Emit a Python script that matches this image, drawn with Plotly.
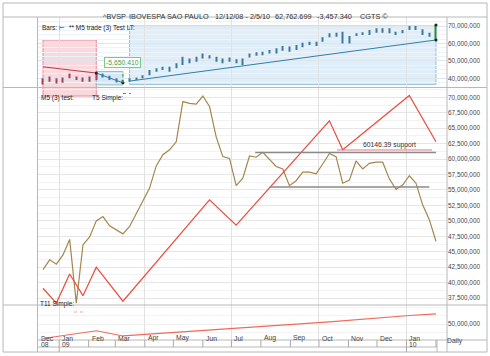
import pandas as pd
import plotly.graph_objects as go
from plotly.subplots import make_subplots

W, H = 490, 356
M = 1e6

# ---------------- data ----------------
weeks = pd.date_range("2008-12-15", periods=60, freq="7D")

bar_low = [36.5, 38, 37, 37.4, 40, 39, 38, 38, 39, 40.5, 39, 37.6, 37, 38, 39, 40,
           41.8, 43.7, 44.7, 43.7, 45.7, 47.6, 48.6, 49.5, 51.4, 51.4, 49.5, 48.6, 49.5, 48.6,
           47.6, 52, 52.9, 53.3, 54.3, 54.3, 55.8, 55.2, 56.2, 57.8, 59.1, 58.5, 61, 63.5,
           63.8, 60, 60, 64.8, 64.8, 64.8, 66.2, 66.2, 65.8, 64.8, 65.8, 67.7, 67.7, 64.8,
           63.9, 62]
bar_high = [40, 41, 40, 40.5, 42.8, 41, 40.5, 41, 43, 42.8, 41.4, 40, 39, 40, 40.5, 41.8,
            44.7, 45.7, 46.6, 46.6, 48.6, 52.4, 51.4, 52.4, 54.3, 53.3, 52.4, 51.4, 52, 50.9,
            51.4, 54.3, 54.9, 55.2, 56.2, 57.2, 58.5, 58.2, 59.1, 60.4, 61, 61, 63.5, 65.8,
            66.2, 66.7, 64.3, 65.8, 66.4, 67.7, 68.7, 68.7, 68.7, 66.7, 67.7, 70, 70, 68.1,
            66.2, 70.6]

m5_test = [42.1, 43.7, 43.0, 44.5, 47.0, 36.7, 46.1, 47.4, 50.0, 50.7, 49.2, 48.6, 47.9,
           49.1, 51.2, 53.4, 55.3, 58.9, 60.7, 61.5, 62.8, 69.3, 69.0, 68.9, 70.2, 68.5,
           63.6, 60.4, 60.1, 55.7, 56.9, 60.5, 60.3, 61.1, 59.9, 58.8, 58.4, 55.7, 56.5,
           57.9, 57.9, 57.6, 59.2, 60.9, 60.4, 56.1, 56.6, 59.7, 58.4, 59.3, 59.5, 59.5,
           56.8, 55.1, 55.8, 57.3, 56.1, 52.6, 50.2, 46.7]

t5_idx = [0, 2, 4, 6, 8, 12, 25, 29, 43, 45, 55, 59]
t5_vals = [39.1, 36.7, 41.4, 37.9, 42.5, 37.0, 53.4, 49.3, 66.2, 61.5, 70.3, 62.8]

t11_idx = [0, 8, 12, 28, 30, 43, 55, 59]
t11_vals = [33.0, 42.0, 36.0, 44.5, 45.0, 52.5, 60.0, 62.0]

# trend lines in the bar panel (start idx, start value, end idx, end value)
trend_red = (0, 46.6, 8, 43.0)
trend_blue1 = (8, 43.0, 12, 37.4)
trend_blue2 = (13, 38.4, 59, 62.0)

# support / resistance lines in main panel (start date, end date, level)
upper_line = ("2009-07-26", "2010-02-01", 61.07)
lower_line = ("2009-08-10", "2010-01-25", 55.5)
support_line = ("2009-10-20", "2010-01-28", 61.47)
support_label = "60146.39 support"

top_ticks = [40, 50, 60, 70]
main_ticks = [37.5, 40, 42.5, 45, 47.5, 50, 52.5, 55, 57.5, 60, 62.5, 65, 67.5, 70]
bottom_ticks = [50]

month_labels = ["Dec", "Jan", "Feb", "Mar", "Apr", "May", "Jun", "Jul", "Aug", "Sep",
                "Oct", "Nov", "Dec", "Jan"]
month_starts = ["2009-01-01", "2009-02-01", "2009-03-01", "2009-04-01", "2009-05-01",
                "2009-06-01", "2009-07-01", "2009-08-01", "2009-09-01", "2009-10-01",
                "2009-11-01", "2009-12-01", "2010-01-01", "2010-02-01"]
year_labels = [("08", None), ("09", "2009-01-01"), ("10", "2010-01-01")]
quarter_grid = ["2009-01-01", "2009-04-01", "2009-07-01", "2009-10-01", "2010-01-01"]

x_range = ["2008-12-09 05:00", "2010-02-12 14:00"]

FONT = "Liberation Sans, Arial, DejaVu Sans, sans-serif"
BROWN = "#a5864c"
RED = "#ec4c3c"
GREEN = "#3aa04a"


def px(x):
    return x / W


def py(y):
    return 1 - y / H


fig = make_subplots(rows=3, cols=1, shared_xaxes=True, vertical_spacing=0)

# ---------------- top panel: bars ----------------
bar_colors = []
for i in range(len(weeks)):
    if i == len(weeks) - 1:
        bar_colors.append("#2e8b3a")
    elif i <= 8:
        bar_colors.append("#a84058")
    else:
        bar_colors.append("#3a7a9c")

fig.add_trace(go.Bar(x=weeks, base=[v * M for v in bar_low],
                     y=[(h - l) * M for h, l in zip(bar_high, bar_low)],
                     width=1.1 * 86400000, marker=dict(color=bar_colors, line=dict(width=0)),
                     showlegend=False, hoverinfo="skip"), row=1, col=1)

for (i0, v0, i1, v1), col in [(trend_red, "#b03a55"), (trend_blue1, "#2f7fa8"),
                              (trend_blue2, "#2f7fa8")]:
    fig.add_trace(go.Scatter(x=[weeks[i0], weeks[i1]], y=[v0 * M, v1 * M], mode="lines",
                             line=dict(color=col, width=1), showlegend=False,
                             hoverinfo="skip"), row=1, col=1)

fig.add_trace(go.Scatter(x=[weeks[8], weeks[12], weeks[59], weeks[59]],
                         y=[trend_red[3] * M, trend_blue1[3] * M, bar_high[59] * M,
                            trend_blue2[3] * M],
                         mode="markers", marker=dict(color="#222", size=3),
                         showlegend=False, hoverinfo="skip"), row=1, col=1)

# ---------------- main panel ----------------
fig.add_trace(go.Scatter(x=weeks, y=[v * M for v in m5_test], mode="lines",
                         line=dict(color=BROWN, width=1.2), showlegend=False,
                         hoverinfo="skip"), row=2, col=1)
fig.add_trace(go.Scatter(x=[weeks[i] for i in t5_idx], y=[v * M for v in t5_vals],
                         mode="lines", line=dict(color=RED, width=1.2), showlegend=False,
                         hoverinfo="skip"), row=2, col=1)

# ---------------- bottom panel ----------------
fig.add_trace(go.Scatter(x=[weeks[i] for i in t11_idx], y=[v * M for v in t11_vals],
                         mode="lines", line=dict(color="#f06a5a", width=1.1),
                         showlegend=False, hoverinfo="skip"), row=3, col=1)

# ---------------- axes ----------------
xdom = [px(37.5), px(447)]
for k in ["xaxis", "xaxis2", "xaxis3"]:
    fig.layout[k].update(domain=xdom, range=x_range, type="date", showticklabels=False,
                         ticks="", showgrid=True, gridcolor="#e2e2e2", gridwidth=1,
                         tickvals=quarter_grid, zeroline=False, showline=False,
                         fixedrange=True)

tickfont = dict(family=FONT, size=6.4, color="#444")
common_y = dict(side="right", tickformat=",d", ticks="", tickfont=tickfont,
                zeroline=False, fixedrange=True)
fig.layout.yaxis.update(domain=[py(87), py(17)], range=[35.0 * M, 75.2 * M],
                        tickvals=[v * M for v in top_ticks], gridcolor="#dbe6ee",
                        minor=dict(dtick=2.5 * M, showgrid=True, gridcolor="#eef3f7"),
                        **common_y)
fig.layout.yaxis2.update(domain=[py(305), py(88)], range=[36.39 * M, 71.5 * M],
                         tickvals=[v * M for v in main_ticks], gridcolor="#e6e6e6",
                         minor=dict(dtick=1.25 * M, showgrid=True, gridcolor="#f2f2f2"),
                         **common_y)
fig.layout.yaxis3.update(domain=[py(340), py(305)], range=[31.2 * M, 72.4 * M],
                         tickvals=[v * M for v in bottom_ticks], gridcolor="#eeeeee",
                         minor=dict(dtick=10 * M, showgrid=True, gridcolor="#f4f4f4"),
                         **common_y)

shapes = []
annos = []

# ---------------- top panel boxes ----------------
def top_val_to_paper(v):
    lo, hi = 35.0, 75.2
    return py(87) + (v - lo) / (hi - lo) * (py(17) - py(87))


shapes.append(dict(type="rect", xref="x", yref="paper", x0=weeks[0], x1=weeks[8],
                   y0=py(96), y1=top_val_to_paper(62.0), fillcolor="rgba(243,178,190,0.5)",
                   line=dict(color="#e58c9c", width=1), layer="below"))
shapes.append(dict(type="rect", xref="x", yref="y", x0=weeks[8], x1=weeks[12],
                   y0=36.2 * M, y1=43.9 * M, fillcolor="rgba(180,214,238,0.55)",
                   line=dict(color="#8cc0e0", width=1), layer="below"))
shapes.append(dict(type="rect", xref="x", yref="y", x0=weeks[13], x1=weeks[59],
                   y0=36.5 * M, y1=70.0 * M, fillcolor="rgba(196,224,243,0.55)",
                   line=dict(color="#8cc0e0", width=1), layer="below"))
shapes.append(dict(type="line", xref="x", yref="y", x0=weeks[12], x1=weeks[12],
                   y0=37.4 * M, y1=43.6 * M, line=dict(color=GREEN, width=1, dash="dot")))

annos.append(dict(xref="x", yref="y", x=weeks[12], y=49.3 * M, text="-5,650.410",
                  showarrow=False, font=dict(family=FONT, size=6.8, color=GREEN),
                  bgcolor="white", bordercolor="#7cc884", borderwidth=1, borderpad=1))

# ---------------- main panel lines ----------------
for (d0, d1, lv), col, wd in [(upper_line, "#8a8a8a", 1.5), (lower_line, "#8a8a8a", 1.5),
                              (support_line, "#e0788a", 1)]:
    shapes.append(dict(type="line", xref="x2", yref="y2", x0=d0, x1=d1, y0=lv * M,
                       y1=lv * M, line=dict(color=col, width=wd)))
annos.append(dict(xref="x2", yref="y2", x="2009-12-14", y=62.25 * M, text=support_label,
                  showarrow=False, font=dict(family=FONT, size=6.8, color="#333")))

# ---------------- frame lines ----------------
LC = "#b8b8b8"
shapes.append(dict(type="rect", xref="paper", yref="paper", x0=px(3), x1=px(487),
                   y0=py(352), y1=py(3), line=dict(color=LC, width=1)))
for y, xa, xb in [(17, 3, 487), (87.5, 3, 487), (305, 3, 487), (340, 37.5, 487),
                  (347, 37.5, 437)]:
    shapes.append(dict(type="line", xref="paper", yref="paper", x0=px(xa), x1=px(xb),
                       y0=py(y), y1=py(y), line=dict(color=LC, width=1)))
for x in [37.5, 447]:
    shapes.append(dict(type="line", xref="paper", yref="paper", x0=px(x), x1=px(x),
                       y0=py(352), y1=py(17), line=dict(color=LC, width=1)))
shapes.append(dict(type="line", xref="paper", yref="paper", x0=px(437), x1=px(437),
                   y0=py(352), y1=py(340), line=dict(color=LC, width=1)))

# month separators and labels in the axis band
for d in month_starts:
    shapes.append(dict(type="line", xref="x3", yref="paper", x0=d, x1=d, y0=py(347),
                       y1=py(340), line=dict(color="#a8a8a8", width=1)))
lab_font = dict(family=FONT, size=6.8, color="#444")
for k, lab in enumerate(month_labels):
    x = x_range[0] if k == 0 else month_starts[k - 1]
    annos.append(dict(xref="x3", yref="paper", x=x, y=py(343.5), text=lab,
                      showarrow=False, xanchor="left", xshift=1, font=lab_font))
for lab, d in year_labels:
    x = x_range[0] if d is None else d
    if d is not None:
        shapes.append(dict(type="line", xref="x3", yref="paper", x0=d, x1=d, y0=py(352),
                           y1=py(347), line=dict(color="#a8a8a8", width=1)))
    annos.append(dict(xref="x3", yref="paper", x=x, y=py(350), text=lab,
                      showarrow=False, xanchor="left", xshift=1, font=lab_font))
annos.append(dict(xref="paper", yref="paper", x=px(465), y=py(346.5), text="Daily",
                  showarrow=False, font=lab_font))

# ---------------- title row ----------------
title_font = dict(family=FONT, size=7.3, color="#333")
for x, t in [(103, "^BVSP"), (129, "IBOVESPA SAO PAULO"), (215, "12/12/08 - 2/5/10"),
             (275, "62,762.699"), (317, "-3,457.340"), (360, "CGTS ©")]:
    annos.append(dict(xref="paper", yref="paper", x=px(x), y=py(10), text=t,
                      showarrow=False, xanchor="left", xshift=-2, font=title_font))

# ---------------- panel legends ----------------
leg_font = dict(family=FONT, size=6.5, color="#222")
for x, y, t in [(41, 21.5, "Bars: ⊢"), (68, 21.5, "** M5 trade (3) Test LT:"),
                (40, 92, "M5 (3) test:"), (91, 92, "T5 Simple:"),
                (39, 309.5, "T11 Simple:")]:
    annos.append(dict(xref="paper", yref="paper", x=px(x), y=py(y), text=t,
                      showarrow=False, xanchor="left", xshift=-1, font=leg_font))
for xa, xb, y, col in [(123, 131, 93.5, RED), (74, 84, 312, "#f0a0a0")]:
    shapes.append(dict(type="line", xref="paper", yref="paper", x0=px(xa), x1=px(xb),
                       y0=py(y), y1=py(y), line=dict(color=col, width=1, dash="dot")))

fig.update_layout(width=W, height=H,
                  margin=dict(l=0, r=0, t=0, b=0, pad=0, autoexpand=False),
                  paper_bgcolor="white", plot_bgcolor="white", barmode="overlay",
                  shapes=shapes, annotations=annos, showlegend=False,
                  font=dict(family=FONT))

fig.write_html("out.html", config={"displayModeBar": False},
               post_script="document.body.style.margin='0';"
                           "document.body.style.overflow='hidden';")
